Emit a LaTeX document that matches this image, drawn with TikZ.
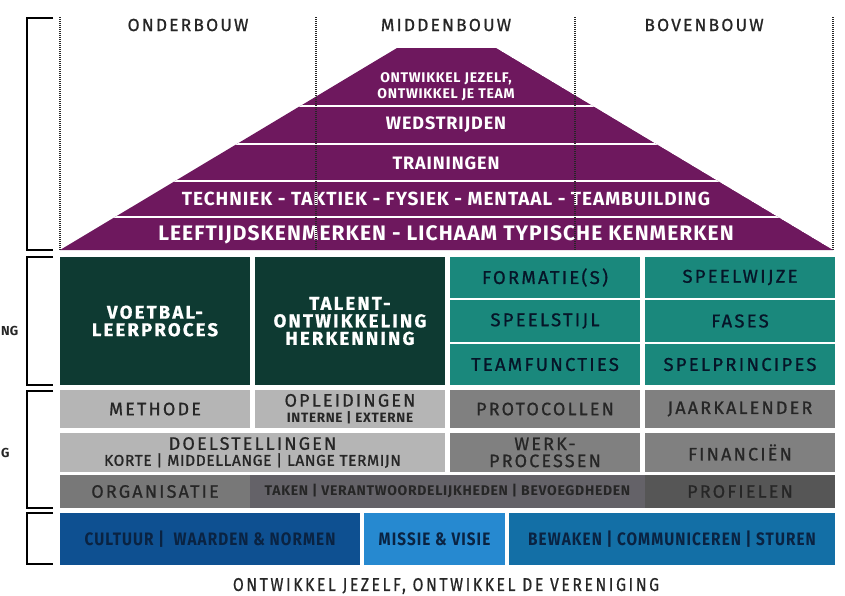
\documentclass[tikz,border=0pt]{standalone}
\usepackage{fontspec}
\setmainfont{Fira Sans}
\newfontfamily\breed[LetterSpace=12,FakeBold=0.8]{Fira Sans}
\newfontfamily\vet[LetterSpace=5]{Fira Sans}
\newfontfamily\half[LetterSpace=4,FakeBold=1.2]{Fira Sans}
\newfontfamily\smal[FakeStretch=0.85,LetterSpace=6]{Fira Sans}
\newfontfamily\smalbreed[FakeStretch=0.85,LetterSpace=14,FakeBold=0.6]{Fira Sans}
\usetikzlibrary{positioning,calc}

\definecolor{paars}{RGB}{110,24,94}
\definecolor{donkergroen}{RGB}{14,58,50}
\definecolor{petrol}{RGB}{26,136,124}
\definecolor{lichtgrijs}{RGB}{181,181,181}
\definecolor{middengrijs}{RGB}{128,128,128}
\definecolor{grijs}{RGB}{120,120,120}
\definecolor{donkergrijs}{RGB}{100,98,104}
\definecolor{antraciet}{RGB}{86,86,86}
\definecolor{donkerblauw}{RGB}{14,80,145}
\definecolor{lichtblauw}{RGB}{38,137,208}
\definecolor{blauw}{RGB}{19,111,166}
\definecolor{tekst}{RGB}{38,38,38}
\definecolor{navy}{RGB}{10,35,66}

\begin{document}
\begin{tikzpicture}[x=1pt, y=-1pt,
    vak/.style 2 args={anchor=north west, inner sep=0pt, outer sep=0pt,
      minimum width=#1, minimum height=#2, align=center},
    laag/.style={text=white, align=center, font=\vet\bfseries\fontsize{18}{20}\selectfont},
    kop/.style={text=tekst, font=\breed\fontsize{17.5}{20}\selectfont},
    groen/.style={fill=donkergroen, text=white, font=\breed\bfseries\fontsize{18.5}{17.5}\selectfont},
    teal/.style={fill=petrol, text=navy!60!black, font=\breed\fontsize{18.5}{19}\selectfont},
    grijsvak/.style={text=tekst, font=\breed\fontsize{18}{17}\selectfont},
    blauwvak/.style={text=navy, font=\smal\bfseries\fontsize{18}{20}\selectfont},
    haak/.style={line width=2.5pt},
    stip/.style={tekst, line width=1.4pt, dash pattern=on 1pt off 1pt}]
  \fill[white] (0,0) rectangle (845,595);
  \useasboundingbox (0,0) rectangle (845,595);

  % piramide
  \coordinate (lo) at (60,250);
  \coordinate (ro) at (833,250);
  \coordinate (lb) at (397,48);
  \coordinate (rb) at (496,48);
  \begin{scope}
    \clip (lo) -- (lb) -- (rb) -- (ro) -- cycle;
    \fill[paars] (lo) -- (lb) -- (rb) -- (ro) -- cycle;
    \foreach \y in {106,144,181,217}
      \draw[white, line width=2.5pt] (0,\y) -- (845,\y);
  \end{scope}
  \node[laag, font=\vet\bfseries\fontsize{14}{16}\selectfont] (team) at (446,87) {ONTWIKKEL JEZELF,\\ONTWIKKEL JE TEAM};
  \node[laag] (wedstrijden) at (446,125) {WEDSTRIJDEN};
  \node[laag] (trainingen) at (446,163) {TRAININGEN};
  \node[laag, font=\vet\bfseries\fontsize{19}{21}\selectfont] (techniek) at (446,199) {TECHNIEK - TAKTIEK - FYSIEK - MENTAAL - TEAMBUILDING};
  \node[laag, font=\vet\bfseries\fontsize{21}{23}\selectfont] (leeftijd) at (446,235) {LEEFTIJDSKENMERKEN - LICHAAM TYPISCHE KENMERKEN};

  \foreach \x in {60,316,575,833}
    \draw[stip] (\x,17) -- (\x,250);
  \node[kop] (onderbouw) at (188,25) {ONDERBOUW};
  \node[kop] (middenbouw) at (446,25) {MIDDENBOUW};
  \node[kop] (bovenbouw) at (704,25) {BOVENBOUW};

  % voetbal
  \node[vak={190pt}{128pt}, groen] (voetbal) at (60,257) {VOETBAL-\\LEERPROCES};
  \node[vak={190pt}{128pt}, groen, right=5pt of voetbal] (talent) {TALENT-\\ONTWIKKELING\\HERKENNING};
  \node[vak={190pt}{41pt}, teal] (formatie) at (450,257) {FORMATIE(S)};
  \node[vak={190pt}{41pt}, teal, right=5pt of formatie] (speelwijze) {SPEELWIJZE};
  \node[vak={190pt}{42pt}, teal] (speelstijl) at (450,300) {SPEELSTIJL};
  \node[vak={190pt}{42pt}, teal, right=5pt of speelstijl] (fases) {FASES};
  \node[vak={190pt}{41pt}, teal] (teamfuncties) at (450,344) {TEAMFUNCTIES};
  \node[vak={190pt}{41pt}, teal, right=5pt of teamfuncties] (spelprincipes) {SPELPRINCIPES};

  % organisatie
  \node[vak={190pt}{38pt}, grijsvak, fill=lichtgrijs] (methode) at (60,390) {METHODE};
  \node[vak={190pt}{38pt}, grijsvak, fill=lichtgrijs, right=5pt of methode] (opleidingen)
    {OPLEIDINGEN\\[-1pt]{\vet\bfseries\fontsize{13.5}{14}\selectfont INTERNE | EXTERNE}};
  \node[vak={190pt}{38pt}, grijsvak, fill=middengrijs, right=5pt of opleidingen] (protocollen) {PROTOCOLLEN};
  \node[vak={190pt}{38pt}, grijsvak, fill=middengrijs, right=5pt of protocollen] (jaarkalender) {JAARKALENDER};
  \node[vak={385pt}{39pt}, grijsvak, fill=lichtgrijs] (doelstellingen) at (60,433)
    {DOELSTELLINGEN\\[-1pt]{\half\fontsize{15.5}{17}\selectfont KORTE | MIDDELLANGE | LANGE TERMIJN}};
  \node[vak={190pt}{39pt}, grijsvak, fill=middengrijs, right=5pt of doelstellingen] (werkprocessen) {WERK-\\PROCESSEN};
  \node[vak={190pt}{39pt}, grijsvak, fill=middengrijs, right=5pt of werkprocessen] (financien) {FINANCIËN};
  \node[vak={190pt}{33pt}, grijsvak, fill=grijs] (organisatie) at (60,475) {ORGANISATIE};
  \node[vak={395pt}{33pt}, grijsvak, fill=donkergrijs, right=0pt of organisatie,
    font=\vet\bfseries\fontsize{14}{15}\selectfont] (taken) {TAKEN | VERANTWOORDELIJKHEDEN | BEVOEGDHEDEN};
  \node[vak={190pt}{33pt}, grijsvak, fill=antraciet, text=black!85, right=0pt of taken] (profielen) {PROFIELEN};

  % vereniging
  \node[vak={300pt}{52pt}, blauwvak, fill=donkerblauw] (cultuur) at (60,513) {CULTUUR |\ \ WAARDEN \& NORMEN};
  \node[vak={141pt}{52pt}, blauwvak, fill=lichtblauw, right=4pt of cultuur] (missie) {MISSIE \& VISIE};
  \node[vak={326pt}{52pt}, blauwvak, fill=blauw, right=4pt of missie] (bewaken) {BEWAKEN | COMMUNICEREN | STUREN};
  \node[inner sep=0pt, text=tekst, font=\smalbreed\fontsize{18.5}{20}\selectfont] (slot) at (446,586) {ONTWIKKEL JEZELF, ONTWIKKEL DE VERENIGING};

  % haken links
  \draw[haak] (53,18) -- (27,18) -- (27,250) -- (53,250);
  \draw[haak] (53,257) -- (27,257) -- (27,385) -- (53,385);
  \draw[haak] (53,391) -- (27,391) -- (27,508) -- (53,508);
  \draw[haak] (53,513) -- (27,513) -- (27,564) -- (53,564);
  \node[anchor=west, inner sep=0pt, text=tekst, font=\bfseries\fontsize{13}{15}\selectfont] (ng) at (1,331) {NG};
  \node[anchor=west, inner sep=0pt, text=tekst, font=\bfseries\fontsize{13}{15}\selectfont] (g) at (1,453) {G};
\end{tikzpicture}
\end{document}
